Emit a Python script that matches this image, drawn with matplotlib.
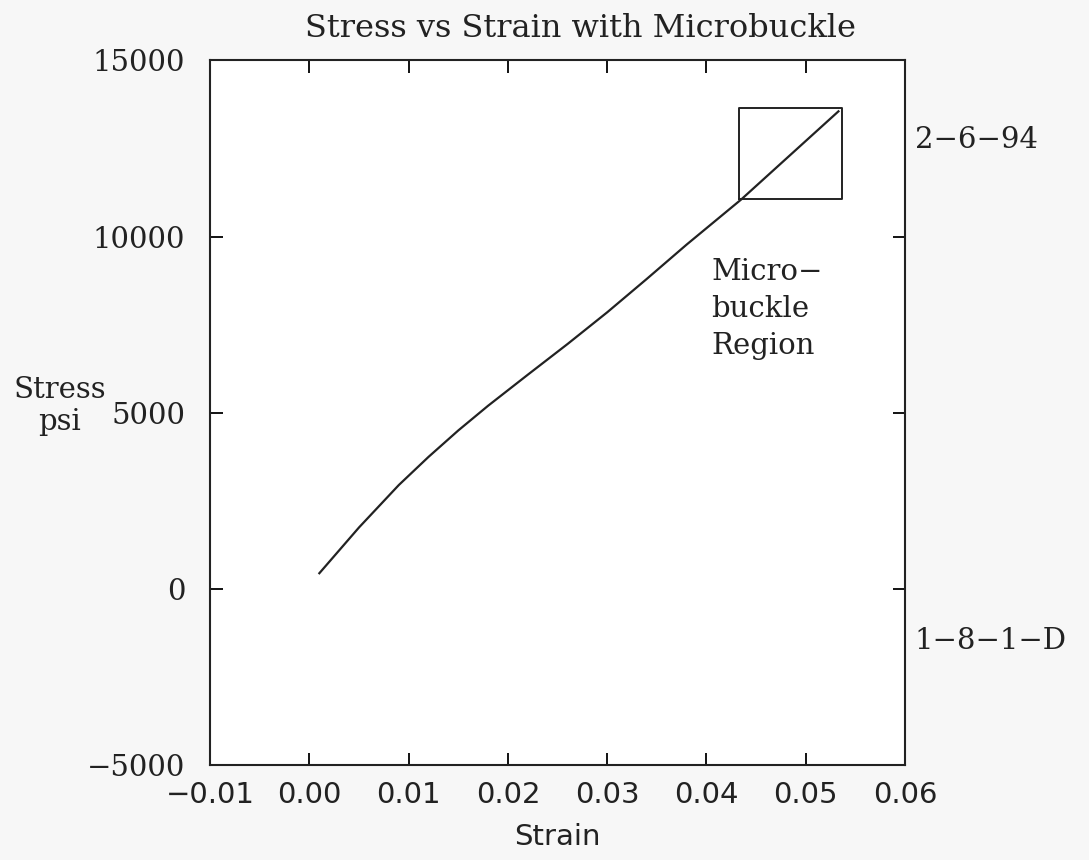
import matplotlib
matplotlib.use("Agg")
import matplotlib.pyplot as plt

# stress-strain curve
strain = [0.001, 0.005, 0.009, 0.012, 0.015, 0.018, 0.022, 0.026, 0.030, 0.034, 0.038, 0.0435, 0.0533]
stress = [450, 1750, 2950, 3750, 4500, 5200, 6080, 6950, 7850, 8800, 9770, 11050, 13550]

# microbuckle box corners
box_x = [0.0433, 0.0537, 0.0537, 0.0433, 0.0433]
box_y = [11050, 11050, 13650, 13650, 11050]

xticks = [-0.01, 0.00, 0.01, 0.02, 0.03, 0.04, 0.05, 0.06]
yticks = [-5000, 0, 5000, 10000, 15000]

fs = 21
ink = "#222222"
serif = "DejaVu Serif"

fig = plt.figure(figsize=(10.89, 8.60), dpi=100)
ax = fig.add_axes([0.193, 0.110, 0.638, 0.820])

ax.plot(strain, stress, color=ink, lw=1.6)
ax.plot(box_x, box_y, color=ink, lw=1.4)

ax.set_xlim(-0.01, 0.06)
ax.set_ylim(-5000, 15000)
ax.set_xticks(xticks)
ax.set_yticks(yticks)
ax.set_xticklabels([f"{t:.2f}".replace("-", "\u2212") for t in xticks],
                   family="DejaVu Sans", fontsize=fs)
ax.set_yticklabels([str(t).replace("-", "\u2212") for t in yticks],
                   family=serif, fontsize=fs)
ax.tick_params(direction="in", length=9, width=1.3, top=True, right=True,
               labelcolor=ink)
ax.tick_params(axis="x", pad=11)
ax.tick_params(axis="y", pad=18)
for s in ax.spines.values():
    s.set_linewidth(1.5)
    s.set_color(ink)

# title sits a little right of the axes centre in the original
fig.text(0.533, 0.967, "Stress vs Strain with Microbuckle", family=serif, fontsize=23,
         color=ink, ha="center", va="center")
ax.set_xlabel("Strain", family="DejaVu Sans", fontsize=fs, color=ink, labelpad=10)

fig.text(0.055, 0.528, "Stress\npsi", family=serif, fontsize=fs, color=ink,
         ha="center", va="center", linespacing=1.2)
fig.text(0.840, 0.837, "2\u22126\u221294", family=serif, fontsize=fs, color=ink,
         ha="left", va="center")
fig.text(0.840, 0.255, "1\u22128\u22121\u2212D", family=serif, fontsize=fs, color=ink,
         ha="left", va="center")
ax.text(0.0405, 7950, "Micro\u2212\nbuckle\nRegion", family=serif, fontsize=fs,
        color=ink, ha="left", va="center", linespacing=1.4)

fig.savefig("out.png", dpi=100, facecolor="#f7f7f7")
